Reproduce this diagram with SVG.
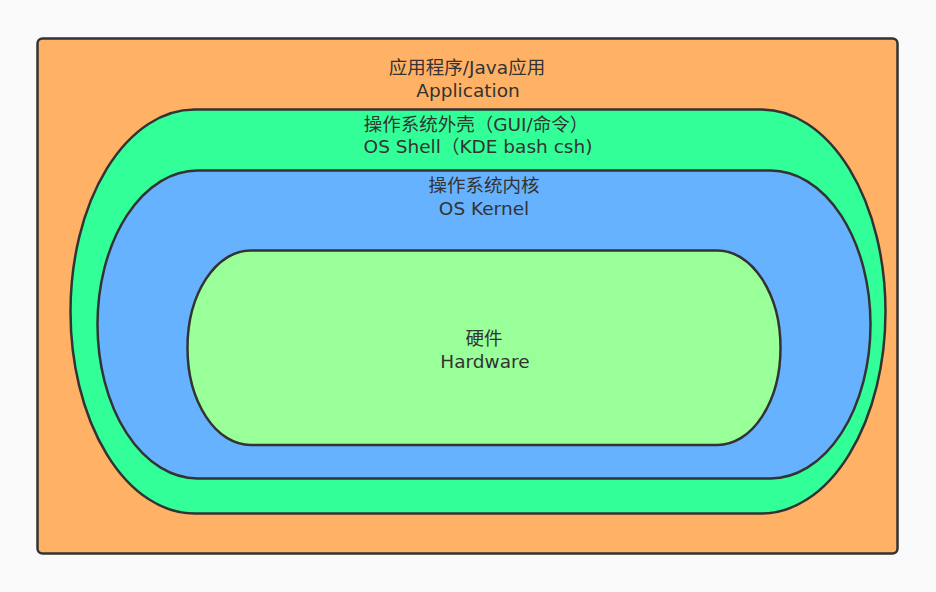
<svg xmlns="http://www.w3.org/2000/svg" width="936" height="592" viewBox="0 0 936 592">
<style>
.shape{stroke:#333333;stroke-width:2.5}
.t{font-family:"DejaVu Sans","Noto Sans CJK SC",sans-serif;font-size:18.5px;fill:#333333;text-anchor:middle}
</style>
<rect x="0" y="0" width="936" height="592" fill="#fafafa"/>
<g id="application">
<rect class="shape" x="37.5" y="38.5" width="860" height="515" rx="5" ry="5" fill="#FFB266"/>
<text class="t" x="467" y="74">应用程序/Java应用</text>
<text class="t" x="468" y="97">Application</text>
</g>
<g id="shell">
<rect class="shape" x="70.5" y="109.5" width="815" height="404" rx="124" ry="202" fill="#33FF99"/>
<text class="t" x="476" y="131">操作系统外壳（GUI/命令）</text>
<text class="t" x="478" y="153">OS Shell（KDE bash csh)</text>
</g>
<g id="kernel">
<rect class="shape" x="97.5" y="170.5" width="773" height="308" rx="100" ry="154" fill="#66B2FF"/>
<text class="t" x="484" y="192">操作系统内核</text>
<text class="t" x="484" y="215">OS Kernel</text>
</g>
<g id="hardware">
<rect class="shape" x="187.5" y="250.5" width="593" height="194.5" rx="63" ry="97" fill="#99FF99"/>
<text class="t" x="484" y="345">硬件</text>
<text class="t" x="485" y="368">Hardware</text>
</g>
<g id="connectors"></g>
</svg>
